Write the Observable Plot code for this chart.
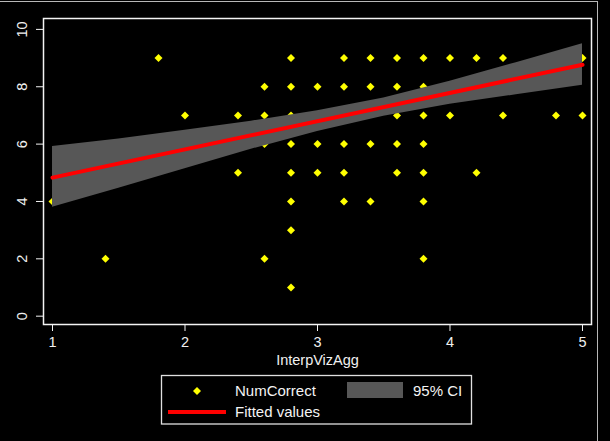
<!DOCTYPE html>
<html><head><meta charset="utf-8">
<script src="https://cdn.jsdelivr.net/npm/d3@7"></script>
<script src="https://cdn.jsdelivr.net/npm/@observablehq/plot@0.6"></script>
<style>
html,body{margin:0;padding:0;background:#000;}
#wrap{position:relative;width:610px;height:441px;background:#000;overflow:hidden;font-family:"Liberation Sans",Arial,sans-serif;}
#chart svg{display:block;}
#outer{position:absolute;left:-2px;top:1px;width:600px;height:460px;border:1px solid #b8b8b8;box-sizing:border-box;pointer-events:none;}
</style></head>
<body><div id="wrap"><div id="chart"></div><div id="legend"></div><div id="outer"></div></div>
<script>
// Scatter data: InterpVizAgg (x) vs NumCorrect (y)
const interpX = [
  1, 1.4, 1.8, 2,
  2.4, 2.4,
  2.6, 2.6, 2.6, 2.6,
  2.8, 2.8, 2.8, 2.8, 2.8, 2.8, 2.8, 2.8,
  3, 3, 3,
  3.2, 3.2, 3.2, 3.2, 3.2,
  3.4, 3.4, 3.4, 3.4,
  3.6, 3.6, 3.6, 3.6, 3.6,
  3.8, 3.8, 3.8, 3.8, 3.8, 3.8, 3.8,
  4, 4,
  4.2, 4.2,
  4.4, 4.4,
  4.8,
  5, 5
];
const numCorrect = [
  4, 2, 9, 7,
  7, 5,
  8, 7, 6, 2,
  9, 8, 7, 6, 5, 4, 3, 1,
  8, 6, 5,
  9, 8, 6, 5, 4,
  9, 8, 6, 4,
  9, 8, 7, 6, 5,
  9, 8, 7, 6, 5, 4, 2,
  9, 7,
  9, 5,
  9, 7,
  7,
  9, 7
];
// Fitted values (linear fit) and 95% CI
const fitX = [1, 5];
const fitY = [4.83, 8.77];
const ciX    = [1,    1.5,  2,    2.5,  3,    3.5,  4,    4.5,  5];
const ciLow  = [3.80, 4.46, 5.14, 5.82, 6.44, 6.97, 7.39, 7.72, 8.05];
const ciHigh = [5.92, 6.18, 6.48, 6.80, 7.16, 7.61, 8.19, 8.84, 9.50];
const xTicks = [1, 2, 3, 4, 5];
const yTicks = [0, 2, 4, 6, 8, 10];
const xLabel = "InterpVizAgg";
const legendLabels = ["NumCorrect", "95% CI", "Fitted values"];

const pts = interpX.map((x, i) => ({x, y: numCorrect[i]}));
const band = ciX.map((x, i) => ({x, lo: ciLow[i], hi: ciHigh[i]}));
const fit = fitX.map((x, i) => ({x, y: fitY[i]}));

const plot = Plot.plot({
  width: 610, height: 370,
  marginLeft: 43, marginRight: 19, marginTop: 18, marginBottom: 46,
  style: {background: "#000", color: "#f0f0f0", fontFamily: "Liberation Sans, Arial, sans-serif", fontSize: "14.5px"},
  x: {domain: [0.932, 5.068]},
  y: {domain: [-0.29, 10.38]},
  marks: [
    Plot.dot(pts, {x: "x", y: "y", symbol: "diamond2", r: 3.6, fill: "#ffff00", stroke: "none"}),
    Plot.areaY(band, {x: "x", y1: "lo", y2: "hi", fill: "#575757"}),
    Plot.line(fit, {x: "x", y: "y", stroke: "#ff0000", strokeWidth: 4}),
    Plot.frame({stroke: "#f4f4f4", strokeWidth: 1.5}),
    Plot.axisY({ticks: yTicks, tickSize: 7, tickRotate: -90, tickPadding: 10, tickFormat: d3.format("d"), label: null, stroke: "#f4f4f4"}),
    Plot.axisX({ticks: xTicks, tickSize: 7, tickPadding: 5, tickFormat: d3.format("d"), label: xLabel, labelAnchor: "center", labelArrow: "none", labelOffset: 40, stroke: "#f4f4f4"})
  ]
});
document.getElementById("chart").appendChild(plot);

// Legend (below the plot SVG)
const lg = d3.select("#legend").append("svg").attr("width", 610).attr("height", 71).style("display", "block");
lg.append("rect").attr("x", 161.5).attr("y", 5.5).attr("width", 310).attr("height", 48.5)
  .attr("fill", "none").attr("stroke", "#e0e0e0").attr("stroke-width", 1.3);
lg.append("path").attr("d", d3.symbol(d3.symbolDiamond2, Math.PI * 3.6 * 3.6)())
  .attr("transform", "translate(197,21)").attr("fill", "#ffff00");
lg.append("rect").attr("x", 347).attr("y", 12).attr("width", 56).attr("height", 16).attr("fill", "#575757");
lg.append("line").attr("x1", 168).attr("x2", 226).attr("y1", 42).attr("y2", 42)
  .attr("stroke", "#ff0000").attr("stroke-width", 4);
const tx = [[235, 21, legendLabels[0]], [413, 21, legendLabels[1]], [235, 42, legendLabels[2]]];
tx.forEach(([x, y, t]) => lg.append("text").attr("x", x).attr("y", y).attr("dy", "0.35em")
  .attr("fill", "#f4f4f4").attr("font-size", "15px").attr("font-family", "Liberation Sans, Arial, sans-serif").text(t));
</script>
</body></html>
